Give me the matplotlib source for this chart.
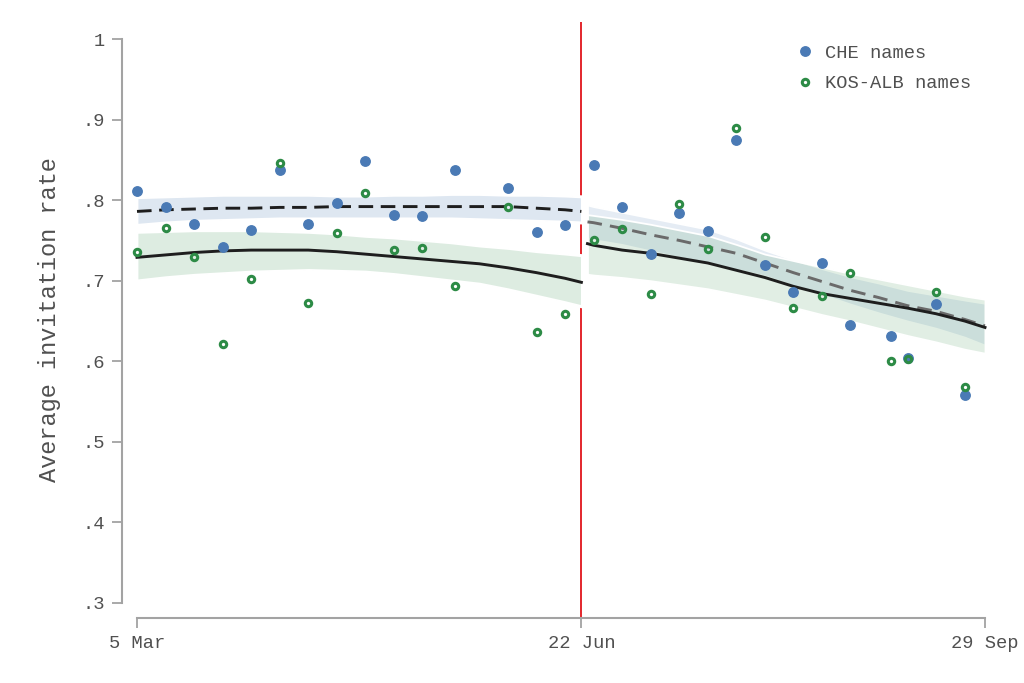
import matplotlib
matplotlib.use("Agg")
import matplotlib.pyplot as plt
from matplotlib.colors import to_rgba

plt.rcParams['font.family'] = ['Liberation Mono', 'DejaVu Sans Mono']

# days since 5 Mar (cutoff = 22 Jun)
cutoff = 109
tick_days = [0, 109, 208]
tick_labels = ["5 Mar", "22 Jun", "29 Sep"]
y_ticks = [0.3, 0.4, 0.5, 0.6, 0.7, 0.8, 0.9, 1.0]
y_ticklabels = [".3", ".4", ".5", ".6", ".7", ".8", ".9", "1"]

# weekly averages
che_days = [0, 7, 14, 21, 28, 35, 42, 49, 56, 63, 70, 78, 91, 98, 105,
            112, 119, 126, 133, 140, 147, 154, 161, 168, 175, 185, 189, 196, 203]
che_rate = [0.811, 0.791, 0.771, 0.742, 0.763, 0.838, 0.770, 0.796, 0.849, 0.781, 0.780, 0.837, 0.815, 0.761, 0.769,
            0.844, 0.792, 0.733, 0.784, 0.762, 0.875, 0.719, 0.686, 0.722, 0.645, 0.631, 0.604, 0.671, 0.558]
kos_days = [0, 7, 14, 21, 28, 35, 42, 49, 56, 63, 70, 78, 91, 98, 105,
            112, 119, 126, 133, 140, 147, 154, 161, 168, 175, 185, 189, 196, 203]
kos_rate = [0.736, 0.766, 0.729, 0.621, 0.702, 0.846, 0.672, 0.759, 0.809, 0.738, 0.741, 0.693, 0.792, 0.636, 0.659,
            0.750, 0.764, 0.684, 0.795, 0.739, 0.889, 0.754, 0.666, 0.681, 0.710, 0.600, 0.603, 0.686, 0.568]

# local fits before the cutoff
fit_pre_days = [0, 7, 14, 21, 28, 35, 42, 49, 56, 63, 70, 77, 84, 91, 98, 105, 109]
che_pre_fit = [0.786, 0.788, 0.789, 0.790, 0.790, 0.791, 0.791, 0.792, 0.792, 0.792, 0.792, 0.792, 0.792, 0.792,
               0.790, 0.788, 0.786]
che_pre_hi = [0.803, 0.804, 0.805, 0.806, 0.806, 0.806, 0.806, 0.805, 0.805, 0.806, 0.806, 0.807, 0.807, 0.806,
              0.806, 0.805, 0.804]
che_pre_lo = [0.770, 0.773, 0.775, 0.776, 0.777, 0.778, 0.778, 0.778, 0.778, 0.778, 0.778, 0.778, 0.777, 0.776,
              0.775, 0.774, 0.773]
kos_pre_fit = [0.729, 0.732, 0.735, 0.737, 0.738, 0.738, 0.738, 0.736, 0.733, 0.730, 0.727, 0.724, 0.721, 0.716,
               0.710, 0.703, 0.698]
kos_pre_hi = [0.760, 0.761, 0.762, 0.762, 0.762, 0.761, 0.760, 0.758, 0.755, 0.753, 0.750, 0.747, 0.743, 0.740,
              0.736, 0.733, 0.731]
kos_pre_lo = [0.701, 0.705, 0.708, 0.710, 0.712, 0.713, 0.714, 0.713, 0.712, 0.709, 0.705, 0.701, 0.697, 0.690,
              0.682, 0.674, 0.669]

# local fits after the cutoff
fit_post_days = [110.5, 112, 119, 126, 133, 140, 147, 154, 161, 168, 175, 182, 189, 196, 203, 208]
che_post_fit = [0.773, 0.772, 0.765, 0.757, 0.750, 0.742, 0.734, 0.722, 0.710, 0.699, 0.688, 0.679, 0.669, 0.662,
                0.652, 0.644]
che_post_hi = [0.794, 0.792, 0.785, 0.778, 0.771, 0.764, 0.752, 0.738, 0.726, 0.715, 0.705, 0.697, 0.688, 0.682,
               0.676, 0.672]
che_post_lo = [0.752, 0.751, 0.745, 0.737, 0.729, 0.721, 0.714, 0.706, 0.694, 0.683, 0.671, 0.660, 0.650, 0.641,
               0.630, 0.620]
kos_post_fit = [0.746, 0.744, 0.738, 0.734, 0.728, 0.722, 0.713, 0.704, 0.693, 0.684, 0.678, 0.672, 0.666, 0.659,
                0.650, 0.642]
kos_post_hi = [0.782, 0.781, 0.776, 0.770, 0.763, 0.756, 0.745, 0.733, 0.725, 0.717, 0.709, 0.702, 0.695, 0.688,
               0.681, 0.677]
kos_post_lo = [0.708, 0.707, 0.704, 0.700, 0.695, 0.690, 0.683, 0.676, 0.667, 0.658, 0.650, 0.641, 0.632, 0.624,
               0.615, 0.610]

blue = '#4a7ab5'
green = '#2d8b46'
axis_gray = '#a3a3a3'
text_gray = '#505050'

fig = plt.figure(figsize=(10.24, 6.83), dpi=100)
ax = fig.add_axes([122 / 1024, 65 / 683, 878 / 1024, 596 / 683])


def band(x, lo, hi, color, alpha):
    # white underlay hides the cutoff line, white outline like the original
    ax.fill_between(x, lo, hi, facecolor='white', edgecolor='white', lw=3, zorder=1.5)
    ax.fill_between(x, lo, hi, facecolor=to_rgba(color, alpha), edgecolor='white', lw=1.3, zorder=2)


ax.axvline(cutoff, color='#e3262c', lw=1.4, zorder=1)

band(fit_pre_days, che_pre_lo, che_pre_hi, blue, 0.18)
band(fit_pre_days, kos_pre_lo, kos_pre_hi, green, 0.16)
band(fit_post_days, che_post_lo, che_post_hi, blue, 0.14)
band(fit_post_days, kos_post_lo, kos_post_hi, green, 0.14)

ax.plot(fit_pre_days, che_pre_fit, color='#1e1e1e', lw=2.1, ls=(0, (5, 2.6)), zorder=3)
ax.plot(fit_pre_days, kos_pre_fit, color='#1e1e1e', lw=2.1, zorder=3)
ax.plot(fit_post_days, che_post_fit, color='#6a6a6a', lw=2.1, ls=(0, (5, 2.8)), zorder=3)
ax.plot(fit_post_days, kos_post_fit, color='#1e1e1e', lw=2.1, zorder=3.1)

h1, = ax.plot(che_days, che_rate, ls='none', marker='o', ms=6.8, color=blue, mec=blue, zorder=4,
              label='CHE names')
h2, = ax.plot(kos_days, kos_rate, ls='none', marker='o', ms=4.6, mfc='none', mec=green, mew=2.2, zorder=5,
              label='KOS-ALB names')

ax.set_xlim(-15 / 4.0769, 863 / 4.0769)
ax.set_ylim(0.3 - 15 / 805.7, 1.0 + 17 / 805.7)

for s in ['top', 'right']:
    ax.spines[s].set_visible(False)
ax.spines['left'].set_bounds(0.3, 1.0)
ax.spines['bottom'].set_bounds(0, 208)
for s in ['left', 'bottom']:
    ax.spines[s].set_color(axis_gray)
    ax.spines[s].set_linewidth(1.5)

ax.set_yticks(y_ticks)
ax.set_yticklabels(y_ticklabels)
ax.set_xticks(tick_days)
ax.set_xticklabels(tick_labels)
ax.tick_params(axis='both', colors=axis_gray, length=7, width=1.3, labelcolor=text_gray, labelsize=13.5, pad=5)

ax.set_ylabel('Average invitation rate', fontsize=17, color=text_gray, labelpad=15.5)

leg = ax.legend(handles=[h1, h2], loc='upper left', bbox_to_anchor=(0.748, 0.99), frameon=False,
                fontsize=13.5, handlelength=1.0, handletextpad=0.55, labelspacing=0.7)
for t in leg.get_texts():
    t.set_color(text_gray)

fig.savefig('out.png', dpi=100)
